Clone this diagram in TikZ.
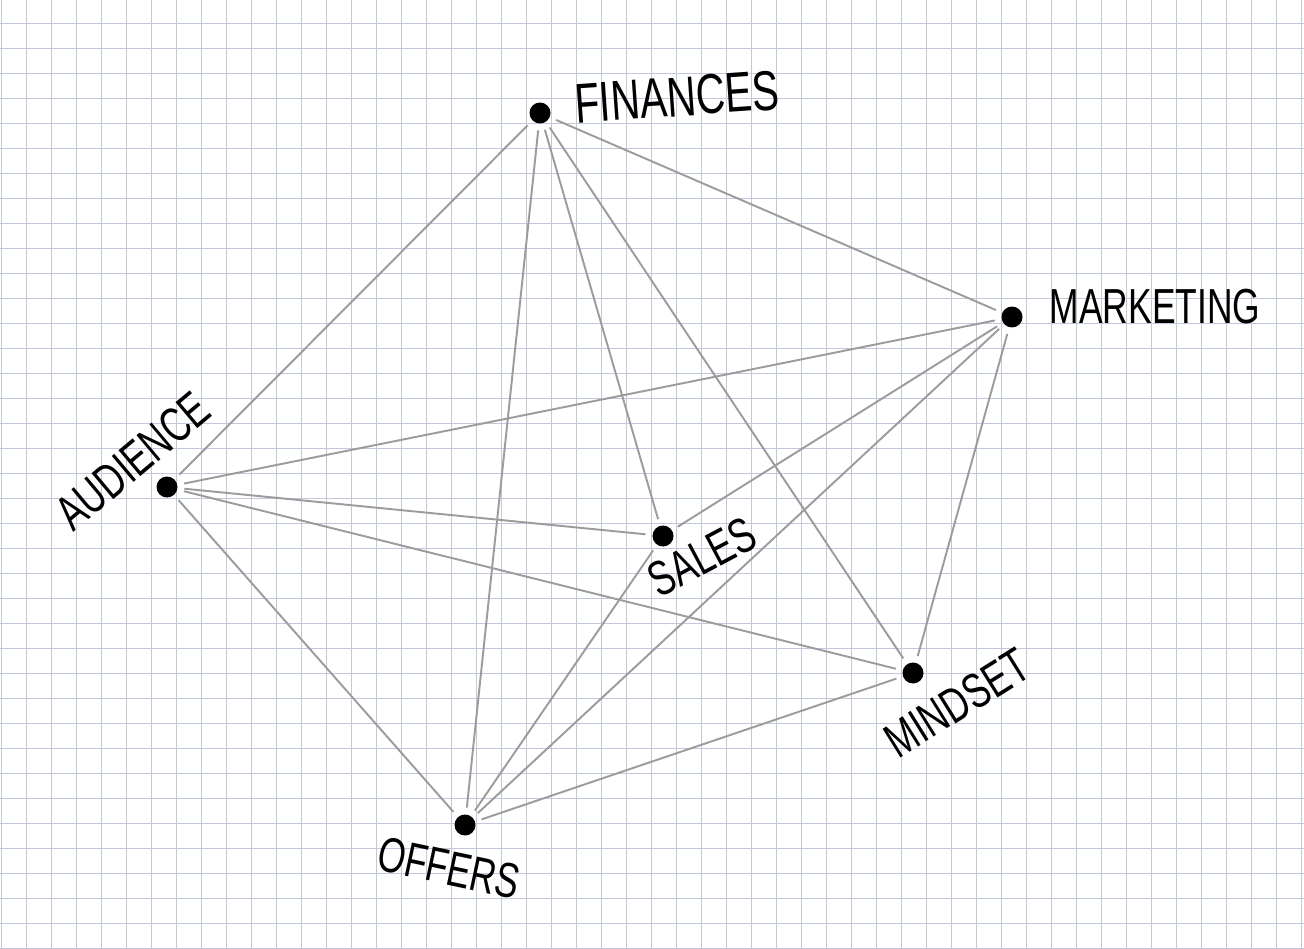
\documentclass[tikz,border=0pt]{standalone}
\usepackage{fontspec}
\newfontfamily\handfont[FakeStretch=0.72]{Liberation Sans}
\definecolor{gridblue}{RGB}{192,200,218}
\definecolor{edgegray}{RGB}{156,156,156}

\begin{document}
\begin{tikzpicture}[x=0.02cm, y=-0.02cm,
    dot/.style={circle, fill=black, inner sep=0pt, minimum width=0.42cm, minimum height=0.36cm, outer sep=4pt},
    edge/.style={edgegray, line width=1.1pt},
    word/.style={font=\handfont\fontsize{28}{30}\selectfont, inner sep=0pt}]
  \useasboundingbox (0,0) rectangle (1304,949);
  \fill[white] (0,0) rectangle (1304,949);

  % Grid
  \foreach \x in {0,...,52}
    \draw[gridblue, line width=0.85pt] (1.7+25*\x,0) -- (1.7+25*\x,949);
  \foreach \y in {-1,...,37}
    \draw[gridblue, line width=0.85pt] (0,23.3+25*\y) -- (1304,23.3+25*\y);

  % Dots
  \node[dot] (fin) at (540,113) {};
  \node[dot] (mkt) at (1012,317) {};
  \node[dot] (aud) at (167,487) {};
  \node[dot] (sal) at (663,536) {};
  \node[dot] (mnd) at (913,673) {};
  \node[dot] (off) at (465,825) {};

  % Labels
  \node[word, rotate=4, font=\handfont\fontsize{32}{34}\selectfont] (finL) at (677,97) {FINANCES};
  \node[word] (mktL) at (1155,307) {MARKETING};
  \node[word, rotate=40] (audL) at (133,461) {AUDIENCE};
  \node[word, rotate=28] (salL) at (702,557) {SALES};
  \node[word, rotate=32] (mndL) at (957,703) {MINDSET};
  \node[word, rotate=-12] (offL) at (449,868) {OFFERS};

  % Connections
  \foreach \a/\b in {fin/aud, fin/off, fin/sal, fin/mnd, fin/mkt,
                     mkt/aud, mkt/sal, mkt/off, mkt/mnd,
                     aud/sal, aud/mnd, aud/off, sal/off, off/mnd}
    \draw[edge] (\a) -- (\b);
\end{tikzpicture}
\end{document}
